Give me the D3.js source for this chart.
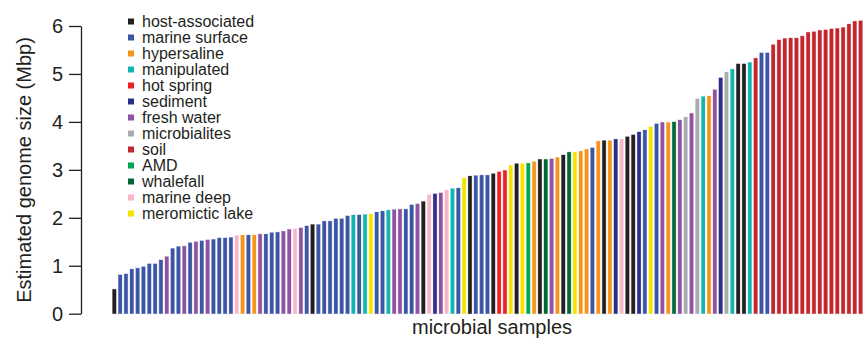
<!DOCTYPE html>
<html>
<head>
<meta charset="utf-8">
<script src="https://cdn.jsdelivr.net/npm/d3@7"></script>
<style>
  body { margin: 0; background: #fff; }
  text { font-family: "Liberation Sans", Arial, Helvetica, sans-serif; fill: #231f20; }
</style>
</head>
<body>
<script>
// Legend categories (in legend order) and their colours
const categories = ['host-associated', 'marine surface', 'hypersaline', 'manipulated', 'hot spring',
  'sediment', 'fresh water', 'microbialites', 'soil', 'AMD', 'whalefall', 'marine deep', 'meromictic lake'];
const keys = ['host', 'msurf', 'hyper', 'manip', 'hot', 'sed', 'fresh', 'micro', 'soil', 'amd', 'whale', 'mdeep', 'mero'];
const palette = ['#231f20', '#3c56a5', '#f7941d', '#13b5b1', '#ed2227', '#2b2f86', '#8f53a1', '#a9abae',
  '#c3272e', '#00a651', '#006838', '#f7b7c9', '#f2e600'];

// Habitat of each sample, sorted by genome size
const habitats = [
  'host', 'msurf', 'msurf', 'msurf', 'msurf', 'msurf', 'msurf', 'msurf', 'msurf', 'fresh',
  'msurf', 'msurf', 'fresh', 'msurf', 'fresh', 'msurf', 'fresh', 'msurf', 'msurf', 'msurf',
  'msurf', 'mdeep', 'hyper', 'msurf', 'hyper', 'fresh', 'msurf', 'msurf', 'msurf', 'fresh',
  'fresh', 'mdeep', 'fresh', 'msurf', 'host', 'msurf', 'msurf', 'msurf', 'msurf', 'msurf',
  'msurf', 'manip', 'msurf', 'manip', 'mero', 'msurf', 'msurf', 'manip', 'fresh', 'fresh',
  'msurf', 'msurf', 'fresh', 'host', 'mdeep', 'sed', 'fresh', 'mdeep', 'manip', 'msurf',
  'mero', 'host', 'msurf', 'msurf', 'msurf', 'host', 'hot', 'hot', 'mero', 'host',
  'mero', 'amd', 'hyper', 'host', 'whale', 'fresh', 'hyper', 'host', 'whale', 'mero',
  'hyper', 'hyper', 'msurf', 'hyper', 'host', 'hyper', 'sed', 'mdeep', 'host', 'host',
  'sed', 'msurf', 'mero', 'msurf', 'fresh', 'hyper', 'whale', 'fresh', 'micro', 'fresh',
  'micro', 'manip', 'hyper', 'fresh', 'sed', 'micro', 'manip', 'host', 'host', 'manip',
  'soil', 'msurf', 'msurf', 'soil', 'soil', 'soil', 'soil', 'soil', 'soil', 'soil',
  'soil', 'soil', 'soil', 'soil', 'soil', 'soil', 'soil', 'soil', 'soil'
];

// Estimated genome size (Mbp) for each sample
const genomeSizes = [
  0.51, 0.81, 0.83, 0.93, 0.95, 0.98, 1.04, 1.04, 1.12, 1.19,
  1.36, 1.40, 1.41, 1.48, 1.50, 1.52, 1.54, 1.55, 1.58, 1.58,
  1.59, 1.63, 1.64, 1.64, 1.64, 1.66, 1.66, 1.69, 1.70, 1.72,
  1.76, 1.77, 1.79, 1.83, 1.86, 1.86, 1.93, 1.93, 1.98, 1.98,
  2.04, 2.06, 2.06, 2.07, 2.08, 2.12, 2.14, 2.16, 2.17, 2.18,
  2.18, 2.27, 2.29, 2.34, 2.48, 2.50, 2.52, 2.58, 2.61, 2.62,
  2.83, 2.87, 2.88, 2.89, 2.89, 2.92, 2.96, 2.99, 3.09, 3.13,
  3.13, 3.14, 3.17, 3.22, 3.22, 3.23, 3.26, 3.31, 3.37, 3.37,
  3.39, 3.43, 3.46, 3.60, 3.61, 3.61, 3.64, 3.64, 3.69, 3.73,
  3.79, 3.83, 3.90, 3.96, 3.99, 3.99, 4.00, 4.04, 4.10, 4.18,
  4.48, 4.53, 4.54, 4.67, 4.92, 5.04, 5.10, 5.21, 5.21, 5.24,
  5.33, 5.44, 5.44, 5.61, 5.71, 5.74, 5.75, 5.75, 5.79, 5.87,
  5.88, 5.91, 5.92, 5.94, 5.95, 5.97, 6.04, 6.10, 6.11
];

const yTicks = [0, 1, 2, 3, 4, 5, 6];

const data = genomeSizes.map((v, i) => ({ id: i, size: v, habitat: habitats[i] }));

// Dimensions
const width = 863;
const height = 339;
const plot = { left: 112.5, right: 862.4, top: 26, bottom: 313.7 };

const svg = d3.select('body')
  .append('svg')
  .attr('width', width)
  .attr('height', height);

// Scales
const xScale = d3.scaleBand()
  .domain(data.map(d => d.id))
  .range([plot.left, plot.right])
  .paddingInner(0.38)
  .paddingOuter(0);

const yScale = d3.scaleLinear()
  .domain([0, 6])
  .range([plot.bottom, plot.top]);

const colorScale = d3.scaleOrdinal()
  .domain(keys)
  .range(palette);

// Bars
svg.append('g')
  .selectAll('rect')
  .data(data)
  .enter().append('rect')
  .attr('x', d => xScale(d.id))
  .attr('y', d => yScale(d.size))
  .attr('width', xScale.bandwidth())
  .attr('height', d => yScale(0) - yScale(d.size))
  .style('fill', d => colorScale(d.habitat))
  .style('stroke', d => colorScale(d.habitat))
  .style('stroke-opacity', 0.3)
  .style('stroke-width', 0.8);

// Y axis
const yAxis = svg.append('g')
  .attr('transform', 'translate(81,0)')
  .call(d3.axisLeft(yScale).tickValues(yTicks).tickFormat(d3.format('d')).tickSize(12).tickSizeOuter(0).tickPadding(6));

yAxis.select('.domain').attr('stroke', '#231f20').attr('stroke-width', 1.3);
yAxis.selectAll('.tick line').attr('stroke', '#231f20').attr('stroke-width', 1.3);
yAxis.selectAll('.tick text')
  .style('font-size', '20px')
  .style('font-family', '"Liberation Sans", Arial, sans-serif')
  .attr('fill', '#231f20');

// Axis labels
svg.append('text')
  .attr('transform', 'translate(24,170) rotate(-90)')
  .attr('dy', '0.35em')
  .style('text-anchor', 'middle')
  .style('font-size', '20px')
  .text('Estimated genome size (Mbp)');

svg.append('text')
  .attr('x', 492)
  .attr('y', 334)
  .style('text-anchor', 'middle')
  .style('font-size', '20px')
  .text('microbial samples');

// Legend
const legend = svg.append('g')
  .selectAll('g')
  .data(categories)
  .enter().append('g')
  .attr('transform', (d, i) => `translate(128,${26.5 + i * 16})`);

legend.append('rect')
  .attr('x', 0)
  .attr('y', -8)
  .attr('width', 6)
  .attr('height', 6)
  .style('fill', (d, i) => palette[i]);

legend.append('text')
  .attr('x', 14)
  .attr('y', 0)
  .style('font-size', '16px')
  .text(d => d);
</script>
</body>
</html>
